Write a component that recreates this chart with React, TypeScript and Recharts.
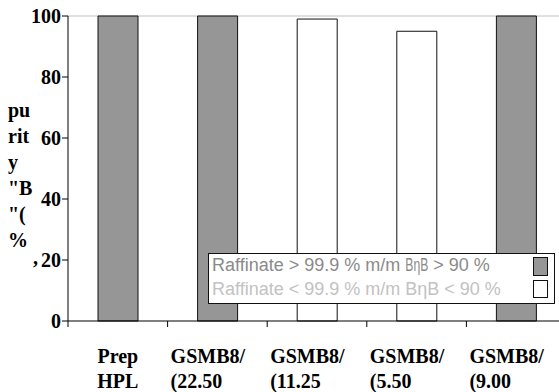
import React from "react";
import { BarChart, Bar, XAxis, YAxis, CartesianGrid, Legend } from "recharts";

// Category labels (two visible lines each)
const labelTop = ["Prep", "GSMB8/", "GSMB8/", "GSMB8/", "GSMB8/"];
const labelBottom = ["HPL", "(22.50", "(11.25", "(5.50", "(9.00"];

// Purity (%) per run, split by raffinate grade
const passSeries = [100, 100, null, null, 100];
const failSeries = [null, null, 99, 95, null];

const yTicks = [0, 20, 40, 60, 80, 100];
const yTitleLines = ["pu", "rit", "y", "\"B", "\"(", "%"];

const passName = "Raffinate > 99.9 % m/m BηB > 90 %";
const failName = "Raffinate < 99.9 % m/m BηB < 90 %";
const legendOrder = ["pass", "fail"];

const data = labelTop.map((top, i) => ({
  name: `${top} ${labelBottom[i]}`,
  pass: passSeries[i],
  fail: failSeries[i],
}));

const SERIF = "'Liberation Serif', 'Times New Roman', serif";
const SANS = "'Liberation Sans', Arial, sans-serif";

const XTick = (props: any) => {
  const { x, y, payload } = props;
  const i = payload.index;
  const half = payload.offset || 49.8;
  const axisY = y - 6;
  const left = x - half;
  // compound names are clipped from the left edge of their slot
  const clipped = labelTop[i].includes("/");
  const tx = clipped ? left + 3 : x;
  return (
    <g>
      <line x1={left} x2={left} y1={axisY} y2={axisY + 6} stroke="#000" strokeWidth={1} />
      <text
        fontFamily={SERIF}
        fontWeight="bold"
        fontSize={20}
        fill="#000"
        textAnchor={clipped ? "start" : "middle"}
      >
        <tspan x={tx} y={y + 36}>{labelTop[i]}</tspan>
        <tspan x={tx} y={y + 61}>{labelBottom[i]}</tspan>
      </text>
    </g>
  );
};

const YTitle = (props: any) => {
  const vb = props.viewBox || { x: 0, y: 16 };
  const x0 = vb.x + 8;
  const y0 = vb.y + 101;
  return (
    <text fontFamily={SERIF} fontWeight="bold" fontSize={20} fill="#000">
      {yTitleLines.map((line, i) => (
        <tspan key={i} x={x0} y={y0 + i * 26}>
          {line}
        </tspan>
      ))}
      <tspan x={vb.x + 32} y={y0 + 158}>’</tspan>
    </text>
  );
};

const legendTextColors = ["#8a8a8a", "#c2c2c2"];

const LegendBox = (props: any) => {
  const payload = [...(props.payload || [])].sort(
    (a: any, b: any) => legendOrder.indexOf(a.dataKey) - legendOrder.indexOf(b.dataKey)
  );
  return (
    <svg width={347} height={51} style={{ display: "block" }}>
      <rect x={0.5} y={0.5} width={346} height={50} fill="#fff" stroke="#111" strokeWidth={1} />
      {payload.map((entry: any, i: number) => {
        const name: string = String(entry.value);
        const cut = name.indexOf("BηB");
        const pre = cut >= 0 ? name.slice(0, cut) : name;
        const mid = cut >= 0 ? "BηB" : "";
        const post = cut >= 0 ? name.slice(cut + 3) : "";
        const baseline = 17.7 + i * 24.5;
        return (
          <g key={i}>
            <text x={4} y={baseline} fontFamily={SANS} fontSize={18} fill={legendTextColors[i]}>
              {pre}
              {i === 0 ? (
                <tspan textLength={23} lengthAdjust="spacingAndGlyphs">{mid}</tspan>
              ) : (
                <tspan>{mid}</tspan>
              )}
              {post}
            </text>
            <rect
              x={325.5}
              y={i === 0 ? 4.5 : 27.5}
              width={14}
              height={i === 0 ? 18 : 17}
              fill={entry.color}
              stroke="#111"
              strokeWidth={1}
            />
          </g>
        );
      })}
    </svg>
  );
};

export default function App() {
  return (
    <div
      style={{
        position: "fixed",
        left: 0,
        top: 0,
        width: 559,
        height: 392,
        overflow: "hidden",
        background: "#fff",
      }}
    >
      <BarChart
        width={600}
        height={392}
        data={data}
        margin={{ top: 16, right: 34, bottom: 0, left: 0 }}
      >
        <CartesianGrid
          vertical={false}
          stroke="#c0c0c0"
          horizontalCoordinatesGenerator={(args: any) => [args.offset.top]}
        />
        <XAxis
          dataKey="name"
          interval={0}
          height={71}
          tickSize={6}
          tickMargin={0}
          tickLine={false}
          axisLine={{ stroke: "#000", strokeWidth: 1 }}
          tick={<XTick />}
        />
        <YAxis
          domain={[0, 100]}
          ticks={yTicks}
          width={68}
          tickSize={6}
          tickMargin={1}
          axisLine={{ stroke: "#000", strokeWidth: 1 }}
          tickLine={{ stroke: "#000", strokeWidth: 1 }}
          tick={{ fontFamily: SERIF, fontWeight: "bold", fontSize: 20, fill: "#000" }}
          label={{ content: (p: any) => <YTitle viewBox={p.viewBox} /> }}
        />
        <Legend
          layout="horizontal"
          verticalAlign="middle"
          align="center"
          wrapperStyle={{ left: 208, top: 253, width: 347, height: 51 }}
          content={<LegendBox />}
        />
        <Bar
          dataKey="pass"
          name={passName}
          stackId="s"
          fill="#969696"
          stroke="#111"
          strokeWidth={1}
          barSize={40}
          isAnimationActive={false}
        />
        <Bar
          dataKey="fail"
          name={failName}
          stackId="s"
          fill="#ffffff"
          stroke="#111"
          strokeWidth={1}
          barSize={40}
          isAnimationActive={false}
        />
      </BarChart>
    </div>
  );
}
